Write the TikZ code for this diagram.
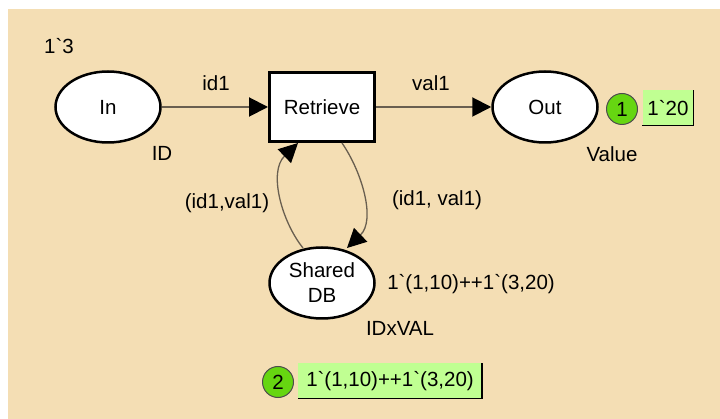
\documentclass[tikz,border=0pt]{standalone}
\usepackage{fontspec}
\newfontfamily\cpnfont{Liberation Sans}
\usetikzlibrary{shapes.geometric,arrows.meta}
\definecolor{pagecolor}{RGB}{244,222,180}
\definecolor{arccolor}{RGB}{105,95,80}
\definecolor{tokencolor}{RGB}{102,214,17}
\definecolor{markcolor}{RGB}{192,255,146}

\begin{document}
\begin{tikzpicture}[x=1pt, y=-1pt, font=\cpnfont\fontsize{20.5}{25}\selectfont,
  cpnplace/.style={draw, ellipse, line width=2.5pt, fill=white, minimum width=105pt, minimum height=71pt, inner sep=0pt, align=center},
  cpntrans/.style={draw, rectangle, line width=3pt, fill=white, minimum width=105pt, minimum height=69pt},
  cpnarc/.style={draw=arccolor, line width=2pt, -{Triangle[length=19pt,width=19pt,color=black]}},
  loopedge/.style={cpnarc, line width=1.3pt},
  token/.style={circle, draw=black!70, fill=tokencolor, minimum size=31pt, inner sep=0pt, line width=1pt},
  marking/.style={fill=markcolor, inner sep=0pt, minimum height=35pt}]
            % Page
            \useasboundingbox (0,0) rectangle (720,419);
            \fill[white] (0,0) rectangle (720,419);
            \fill[pagecolor] (8,9) rectangle (720,419);

            % Places
            \node[cpnplace] (in) at (108,107) {In};
            \node[cpnplace] (out) at (545,107) {Out};
            \node[cpnplace] (db) at (322,283) {Shared\\DB};

            % Transition
            \node[cpntrans] (retrieve) at (322,107) {Retrieve};

            % Inscriptions
            \node (init) at (59,46) {1`3};
            \node (intype) at (162,153) {ID};
            \node (outtype) at (612,154) {Value};
            \node (dbtype) at (400,328) {IDxVAL};
            \node (dbinit) at (471,284) {1`(1,10)++1`(3,20)};
            \node (inlabel) at (216,83) {id1};
            \node (outlabel) at (431,83) {val1};
            \node (readlabel) at (227,203) {(id1,val1)};
            \node (backlabel) at (437,200) {(id1, val1)};

            % Arcs
            \coordinate (dbl) at (303,248);
            \coordinate (dbr) at (347,248);
            \coordinate (rl) at (298,143);
            \coordinate (rr) at (342,143);
            \draw[cpnarc] (in) -- (retrieve);
            \draw[cpnarc] (retrieve) -- (out);
            \draw[loopedge] (dbl) .. controls (282,222) and (268,172) .. (rl);
            \draw[loopedge] (rr) .. controls (362,172) and (376,220) .. (dbr);

            % Markings
            \node[token] (tok1) at (622,109) {1};
            \node[marking, minimum width=51pt] (mark1) at (668,108) {1`20};
            \draw[line width=1.5pt] (mark1.north east) -- (mark1.south east) -- (mark1.south west);
            \node[token] (tok2) at (278,382) {2};
            \node[marking, minimum width=184pt] (mark2) at (390,381) {1`(1,10)++1`(3,20)};
            \draw[line width=1.5pt] (mark2.north east) -- (mark2.south east) -- (mark2.south west);
        \end{tikzpicture}
\end{document}
